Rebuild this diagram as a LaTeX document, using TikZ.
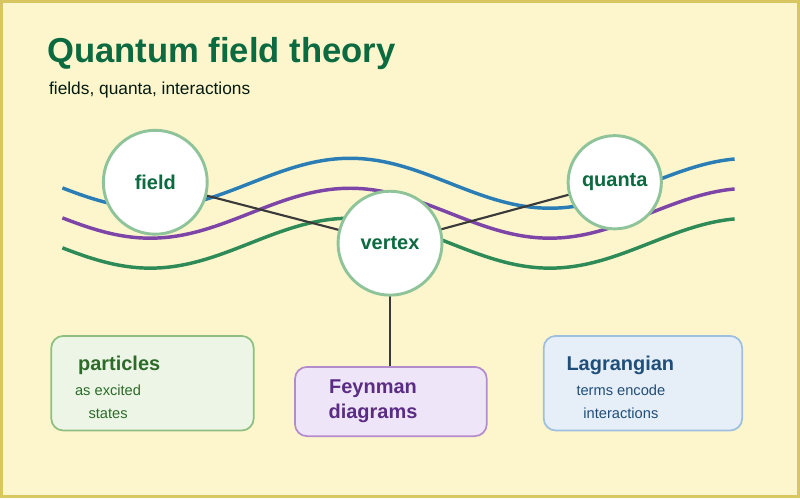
\documentclass[tikz,border=0pt]{standalone}
\usepackage{fontspec}
\setmainfont{Liberation Sans}
\begin{document}
\begin{tikzpicture}[x=0.75pt,y=-0.75pt,
  circ/.style={circle,draw=circb,line width=2.2pt,fill=white,minimum size=#1,inner sep=0pt,font=\bfseries\fontsize{15}{18}\selectfont,text=titleg},
  box/.style={rounded corners=9pt,line width=1.3pt,anchor=north west},
  wave/.style={line width=2.6pt,smooth},
  link/.style={draw=linkc,line width=1.6pt}]
\definecolor{bg}{HTML}{FDF6CC}\definecolor{frame}{HTML}{D8C660}
\definecolor{titleg}{HTML}{0B6A3F}\definecolor{circb}{HTML}{8FC49A}
\definecolor{linkc}{HTML}{3A3A3A}
\definecolor{wblue}{HTML}{2A7DB5}\definecolor{wpurp}{HTML}{7D45A8}\definecolor{wgreen}{HTML}{2E8B57}
\fill[bg,draw=frame,line width=2.2pt] (1,1) rectangle (799,497);
\useasboundingbox (0,0) rectangle (800,498);
\node[anchor=west,text=titleg,font=\bfseries\fontsize{26}{30}\selectfont] (title) at (42,53) {Quantum field theory};
\node[anchor=west,text=black!75!titleg,font=\fontsize{13}{16}\selectfont] (sub) at (44,90) {fields, quanta, interactions};
\draw[wave,wblue] plot[domain=62:735,samples=80] ({\x},{183-25*cos(0.9*(\x-350))});
\draw[wave,wpurp] plot[domain=62:735,samples=80] ({\x},{213-25*cos(0.9*(\x-350))});
\draw[wave,wgreen] plot[domain=62:735,samples=80] ({\x},{243-25*cos(0.9*(\x-350))});
\node[box,minimum width=152pt,minimum height=71pt,draw={rgb,255:red,143;green,191;blue,128},fill={rgb,255:red,236;green,245;blue,230}] (pbox) at (50,335) {};
\node[anchor=west,font=\bfseries\fontsize{15}{18}\selectfont,text={rgb,255:red,46;green,107;blue,42}] (pt) at (73,365) {particles};
\node[anchor=north west,align=center,font=\fontsize{11}{17.5}\selectfont,text={rgb,255:red,46;green,107;blue,42}] (pd) at (70,380) {as excited\\states};
\node[box,draw={rgb,255:red,180;green,140;blue,203},fill={rgb,255:red,238;green,230;blue,248},minimum width=144pt,minimum height=52pt] (fbox) at (294,366) {};
\node[align=center,font=\bfseries\fontsize{15}{19}\selectfont,text={rgb,255:red,91;green,44;blue,131}] (ft) at (373,401) {Feynman\\diagrams};
\node[box,draw={rgb,255:red,158;green,192;blue,224},fill={rgb,255:red,230;green,238;blue,248},minimum width=149pt,minimum height=71pt] (lbox) at (543,335) {};
\node[anchor=west,font=\bfseries\fontsize{15}{18}\selectfont,text={rgb,255:red,31;green,78;blue,121}] (lt) at (562,365) {Lagrangian};
\node[anchor=north west,align=center,font=\fontsize{11}{17.5}\selectfont,text={rgb,255:red,31;green,78;blue,121}] (ld) at (572,380) {terms encode\\interactions};
\coordinate (fc) at (155,182);\coordinate (qc) at (615,182);\coordinate (vc) at (390,243);
\draw[link] (fc) -- (vc) -- (qc);
\draw[link] (vc) -- (fbox.north -| vc);
\node[circ=78pt] (field) at (fc) {field};
\node[circ=70pt] (quanta) at (qc) {quanta};
\node[circ=78pt] (vertex) at (vc) {vertex};
\end{tikzpicture}
\end{document}
